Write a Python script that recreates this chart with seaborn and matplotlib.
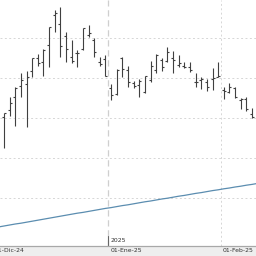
import matplotlib
matplotlib.use("Agg")
import matplotlib.pyplot as plt
import matplotlib.transforms as mtransforms
from matplotlib.patches import Rectangle
import numpy as np
import pandas as pd
import seaborn as sns

# ---- data ----
highs = [41.25, 45.25, 47.75, 51.25, 51.75, 55.0, 56.0, 57.25, 62.75, 67.0,
         67.75, 61.5, 59.5, 57.0, 62.5, 63.25, 60.0, 55.25, 55.75, 48.5,
         52.25, 55.25, 53.0, 49.25, 49.75, 50.5, 54.25, 56.0, 55.0, 57.75,
         56.75, 55.75, 54.0, 54.0, 51.25, 50.25, 49.75, 52.5, 54.0, 47.75,
         48.75, 47.75, 45.0, 45.25, 42.5]
lows = [32.5, 40.5, 38.0, 45.25, 37.75, 50.25, 53.0, 50.5, 52.75, 61.5,
        55.25, 54.0, 53.75, 52.75, 57.0, 60.25, 55.25, 53.0, 50.5, 44.5,
        45.75, 50.25, 47.75, 47.5, 45.25, 46.25, 49.0, 51.25, 51.75, 54.0,
        51.25, 52.75, 52.5, 51.5, 47.75, 47.25, 46.75, 47.0, 50.25, 44.75,
        46.25, 45.0, 42.25, 41.75, 40.0]
opens = [40.25, 42.0, 45.25, 48.0, 48.5, 51.75, 55.0, 54.0, 58.25, 65.75,
         63.5, 60.5, 55.25, 56.25, 57.25, 60.75, 59.5, 54.0, 54.75, 47.5,
         46.0, 55.0, 52.0, 48.75, 48.25, 46.5, 49.5, 52.0, 54.5, 54.25,
         55.0, 53.25, 53.0, 52.75, 49.0, 49.5, 49.0, 49.75, 50.25, 47.0,
         46.5, 47.5, 44.5, 44.75, 41.0]
closes = [41.25, 43.75, 47.5, 49.5, 50.25, 55.0, 53.75, 57.0, 62.75, 66.25,
          58.0, 57.25, 54.25, 56.25, 62.5, 61.25, 56.5, 53.5, 50.5, 45.75,
          52.0, 52.25, 49.0, 48.0, 49.25, 50.5, 53.0, 55.75, 52.75, 56.5,
          54.5, 53.75, 52.75, 52.0, 49.0, 49.75, 47.75, 50.0, 50.5, 46.75,
          47.75, 45.25, 44.75, 42.25, 40.25]
ma_values = [12.75, 13.0, 13.25, 13.5, 13.7, 13.95, 14.2, 14.45, 14.7, 14.95,
             15.2, 15.45, 15.7, 15.95, 16.2, 16.4, 16.65, 16.9, 17.15, 17.4,
             17.6, 17.85, 18.1, 18.3, 18.55, 18.8, 19.05, 19.25, 19.5, 19.75,
             19.95, 20.2, 20.45, 20.65, 20.9, 21.15, 21.35, 21.6, 21.85, 22.05,
             22.3, 22.5, 22.75, 22.95, 23.2, 23.4, 23.65]
month_ticks = [-2.1, 18.5, 38.5]
month_labels = ["01-Dic-24", "01-Ene-25", "01-Feb-25"]
year_label = "2025"

n = len(highs)
idx = np.arange(n)
ma_idx = np.arange(-1, len(ma_values) - 1)
ma_df = pd.DataFrame({"i": ma_idx, "ma": ma_values})

sns.set_style("white")
plt.rcParams['font.family'] = ['DejaVu Sans']

fig = plt.figure(figsize=(2.56, 2.56), dpi=100)
fig.patches.append(Rectangle((0, 0), 1, 10 / 256, transform=fig.transFigure,
                             facecolor="#eeeeee", edgecolor="none", zorder=-5))
ax = fig.add_axes([0, 10 / 256, 1, 246 / 256])
ax.set_facecolor("white")

# grid
for yv in [20, 30, 40, 50, 60]:
    ax.axhline(yv, color="#d6d6d6", lw=0.7, ls=(0, (2, 2.5)), zorder=0)
ax.axvline(month_ticks[1], color="#cfcfcf", lw=0.9, ls=(0, (5, 3)), zorder=0)
ax.axvline(month_ticks[2], color="#d6d6d6", lw=0.7, ls=(0, (2, 2.5)), zorder=0)

# moving average line
sns.lineplot(data=ma_df, x="i", y="ma", ax=ax, color="#5b8db0", lw=0.9,
             legend=False, zorder=2)

# OHLC bars
bar_color = "#404040"
ax.vlines(idx, lows, highs, color=bar_color, lw=0.8, zorder=3)
ax.hlines(opens, idx - 0.36, idx, color=bar_color, lw=0.8, zorder=3)
ax.hlines(closes, idx, idx + 0.36, color=bar_color, lw=0.8, zorder=3)

ax.set_xlabel("")
ax.set_ylabel("")
ax.set_yticks([])
ax.set_xticks(month_ticks)
ax.set_xticklabels([])
ax.tick_params(axis="x", length=4, width=0.8, color="#808080", direction="out")
ax.set_xlim(-0.71, 44.71)
ax.set_ylim(8.0, 69.5)

for s in ["top", "left", "right"]:
    ax.spines[s].set_visible(False)
ax.spines["bottom"].set_color("#a8a8a8")
ax.spines["bottom"].set_linewidth(0.9)

trans = ax.get_xaxis_transform()
lab_trans = mtransforms.offset_copy(trans, fig=fig, x=2, y=0, units="dots")
for xt, lab in zip(month_ticks, month_labels):
    ax.text(xt, -5 / 246, lab, transform=lab_trans, ha="left", va="center",
            fontsize=4.4, color="#333333", clip_on=False, zorder=10)

# year marker
ax.plot([month_ticks[1], month_ticks[1]], [0, 10 / 246], transform=trans,
        color="#666666", lw=0.8, clip_on=False)
ax.text(month_ticks[1], 5 / 246, year_label, transform=lab_trans, ha="left",
        va="center", fontsize=4.4, color="#333333", clip_on=False)

fig.savefig("out.png", dpi=100)
